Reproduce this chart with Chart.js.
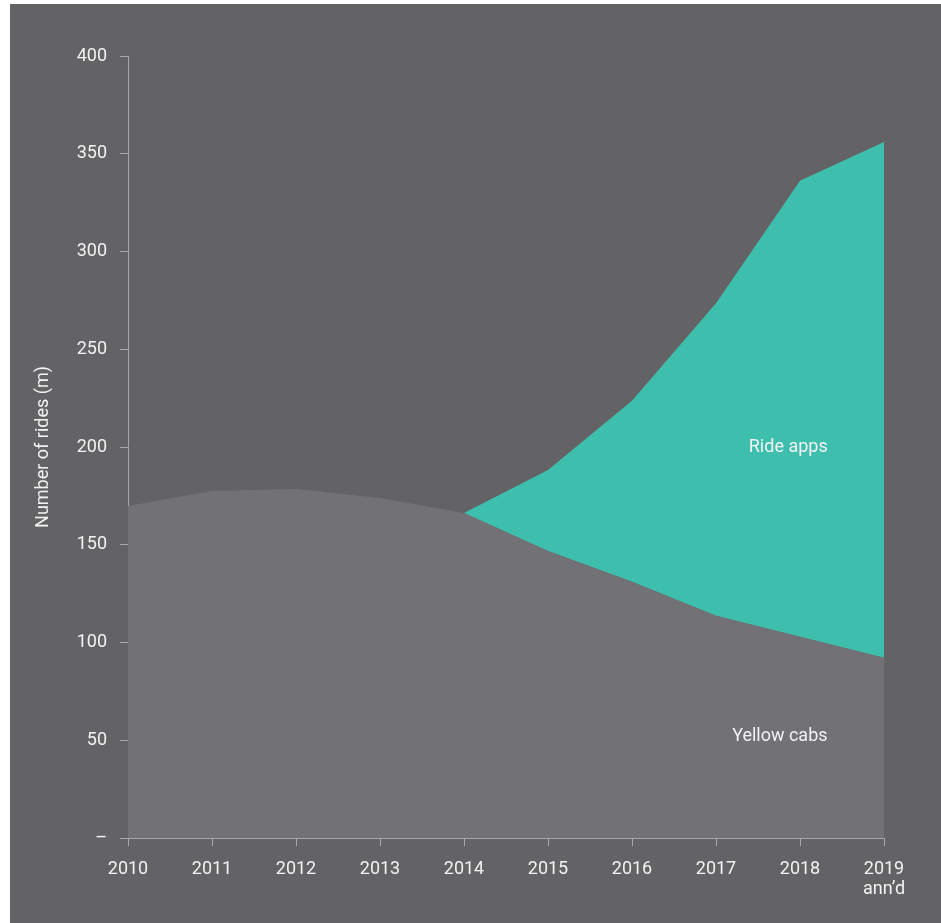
<!DOCTYPE html>
<html>
<head>
<meta charset="utf-8">
<script src="https://cdn.jsdelivr.net/npm/chart.js@4"></script>
<style>
  body { margin: 0; background: #ffffff; }
  #chart { position: absolute; left: 10px; top: 4px; background: #636365; }
</style>
</head>
<body>
<canvas id="chart" width="931" height="919"></canvas>
<script>
// data (millions of rides)
var years = ['2010', '2011', '2012', '2013', '2014', '2015', '2016', '2017', '2018', ['2019', 'ann\u2019d']];
var yellowCabs = [169.8, 177.5, 178.5, 173.9, 166.2, 146.8, 131.1, 113.7, 103.0, 92.2];
var rideApps = [null, null, null, null, 0, 41.4, 92.6, 159.8, 233.2, 263.8];
var yTicks = [0, 50, 100, 150, 200, 250, 300, 350, 400];

// area labels: [text, x index, y value]
var areaLabels = [
    ['Ride apps', 7.86, 200],
    ['Yellow cabs', 7.76, 52]
];

var textColor = '#f2f2f2';
var axisColor = '#a8a8aa';
var font = { family: 'Roboto', size: 18, lineHeight: 1.1 };

var labelPlugin = {
    id: 'areaLabels',
    afterDatasetsDraw: function(chart) {
        var ctx = chart.ctx;
        var x = chart.scales.x, y = chart.scales.y;
        ctx.save();
        ctx.fillStyle = textColor;
        ctx.font = '18px Roboto';
        ctx.textAlign = 'center';
        ctx.textBaseline = 'middle';
        areaLabels.forEach(function(l) {
            ctx.fillText(l[0], x.getPixelForValue(l[1]), y.getPixelForValue(l[2]));
        });
        ctx.restore();
    }
};

var ctx = document.getElementById('chart').getContext('2d');
var chart = new Chart(ctx, {
    type: 'line',
    data: {
        labels: years,
        datasets: [
            {
                label: 'Yellow cabs',
                data: yellowCabs,
                fill: 'origin',
                backgroundColor: '#727276',
                borderWidth: 0,
                pointRadius: 0,
                tension: 0
            },
            {
                label: 'Ride apps',
                data: rideApps,
                fill: '-1',
                backgroundColor: '#3ebfae',
                borderWidth: 0,
                pointRadius: 0,
                tension: 0
            }
        ]
    },
    options: {
        responsive: false,
        animation: false,
        layout: { padding: { top: 52, right: 57, bottom: 0, left: 0 } },
        plugins: {
            legend: { display: false },
            tooltip: { enabled: false }
        },
        scales: {
            x: {
                z: 1,
                offset: false,
                grid: { display: true, drawOnChartArea: false, drawTicks: true, tickLength: 8, color: axisColor },
                border: { color: axisColor },
                ticks: { color: textColor, font: font, padding: 14, maxRotation: 0, autoSkip: false },
                afterFit: function(scale) { scale.height = 85; }
            },
            y: {
                z: 1,
                stacked: true,
                min: 0,
                max: 400,
                afterBuildTicks: function(scale) {
                    scale.ticks = yTicks.map(function(v) { return { value: v }; });
                },
                grid: { display: true, drawOnChartArea: false, drawTicks: true, tickLength: 8, color: axisColor },
                border: { color: axisColor },
                ticks: {
                    color: textColor,
                    font: font,
                    padding: 13,
                    callback: function(v) { return v === 0 ? '\u2013' : v; }
                },
                title: {
                    display: true,
                    text: 'Number of rides (m)',
                    color: textColor,
                    font: font,
                    padding: { top: 24, bottom: 0 }
                },
                afterFit: function(scale) { scale.width = 118; }
            }
        }
    },
    plugins: [labelPlugin]
});
</script>
</body>
</html>
